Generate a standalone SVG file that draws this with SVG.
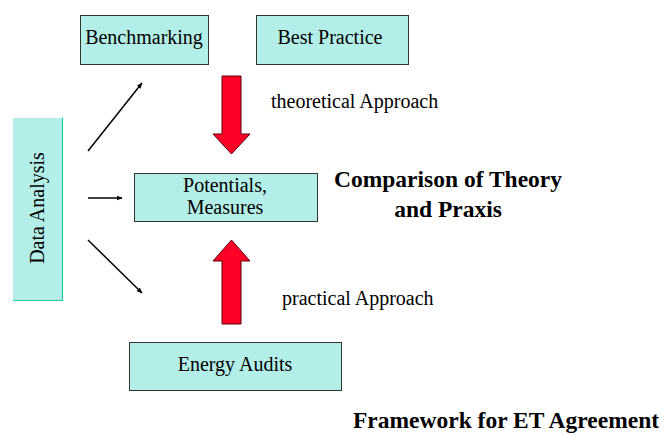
<svg xmlns="http://www.w3.org/2000/svg" width="666" height="434" viewBox="0 0 666 434" font-family="Liberation Serif, DejaVu Serif, serif">
  <style>
    .box { fill: #b3efe8; stroke: #333; stroke-width: 1; }
    .lbl { font-size: 20px; fill: #000; }
    .bold { font-size: 23.5px; font-weight: bold; fill: #000; }
    .flow { fill: #ff0026; stroke: #5a0010; stroke-width: 1; }
    .link { stroke: #000; stroke-width: 1.5; fill: none; marker-end: url(#head); }
  </style>
  <defs>
    <marker id="head" viewBox="0 0 10 10" refX="9" refY="5" markerWidth="6" markerHeight="6" markerUnits="userSpaceOnUse" orient="auto">
      <path d="M0,1 L10,5 L0,9 Z" fill="#000"/>
    </marker>
  </defs>
  <rect width="666" height="434" fill="#fff"/>

  <g id="benchmarking">
    <rect class="box" x="80.5" y="15.5" width="128" height="49"/>
    <text class="lbl" x="144" y="44" text-anchor="middle">Benchmarking</text>
  </g>
  <g id="best-practice">
    <rect class="box" x="256.5" y="15.5" width="152" height="49"/>
    <text class="lbl" x="330" y="44" text-anchor="middle">Best Practice</text>
  </g>
  <g id="data-analysis">
    <rect x="13" y="118" width="50" height="183" fill="#b3efe8"/>
    <!-- edge only on the right and bottom sides -->
    <path d="M62.5,118 V300.5 H13" fill="none" stroke="#20cfa0" stroke-width="1.2"/>
    <text class="lbl" transform="translate(44 208) rotate(-90)" text-anchor="middle">Data Analysis</text>
  </g>
  <g id="potentials">
    <rect class="box" x="134.5" y="173.5" width="183" height="48"/>
    <text class="lbl" x="225" y="192" text-anchor="middle">Potentials,</text>
    <text class="lbl" x="225" y="214" text-anchor="middle">Measures</text>
  </g>
  <g id="energy-audits">
    <rect class="box" x="129.5" y="342.5" width="212" height="48"/>
    <text class="lbl" x="235" y="371" text-anchor="middle">Energy Audits</text>
  </g>

  <g id="connectors">
    <line class="link" x1="88" y1="151" x2="142" y2="83"/>
    <line class="link" x1="88" y1="198" x2="122" y2="198"/>
    <line class="link" x1="88" y1="240" x2="142" y2="293"/>
    <path class="flow" d="M222,76 L241,76 L241,134 L250,134 L231.5,154 L213,134 L222,134 Z"/>
    <path class="flow" d="M222,324 L241,324 L241,261 L250,261 L231.5,240 L213,261 L222,261 Z"/>
  </g>

  <g id="labels">
    <text class="lbl" x="271" y="108">theoretical Approach</text>
    <text class="lbl" x="282" y="305">practical Approach</text>
    <text class="bold" x="448" y="187" text-anchor="middle">Comparison of Theory</text>
    <text class="bold" x="448" y="217" text-anchor="middle">and Praxis</text>
    <text class="bold" x="506" y="428" text-anchor="middle">Framework for ET Agreement</text>
  </g>
</svg>
